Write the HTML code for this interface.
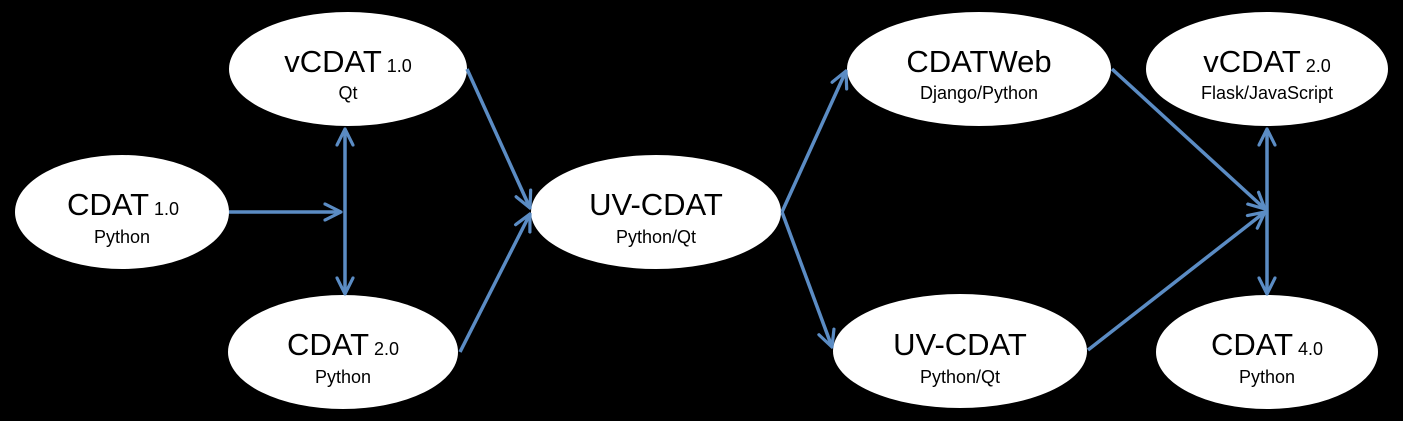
<!DOCTYPE html>
<html><head><meta charset="utf-8"><style>
html,body{margin:0;padding:0;background:#000;}
svg{display:block;}
text{font-family:"Liberation Sans",sans-serif;fill:#000;}
.t{font-size:31px;}
.s{font-size:18px;}
.v{font-size:18px;}
</style></head><body>
<svg width="1403" height="421" viewBox="0 0 1403 421" xmlns="http://www.w3.org/2000/svg">
<defs>
<marker id="a" viewBox="0 0 12 12" refX="11" refY="6" markerWidth="5.5" markerHeight="5.5" orient="auto-start-reverse" markerUnits="strokeWidth">
<path d="M1,1 L11,6 L1,11" fill="none" stroke="#5b8cc4" stroke-width="2" stroke-linecap="round"/>
</marker>
</defs>
<g fill="#fff">
<ellipse cx="122" cy="212" rx="107" ry="57"/>
<ellipse cx="348" cy="69" rx="119" ry="57"/>
<ellipse cx="343" cy="352" rx="115" ry="57"/>
<ellipse cx="656" cy="212" rx="125" ry="57"/>
<ellipse cx="979" cy="69" rx="132" ry="57"/>
<ellipse cx="1267" cy="69" rx="121" ry="57"/>
<ellipse cx="960" cy="351" rx="127" ry="57"/>
<ellipse cx="1267" cy="352" rx="111" ry="57"/>
</g>
<g stroke="#5b8cc4" stroke-width="3.5" fill="none">
<line x1="229" y1="212" x2="341" y2="212" marker-end="url(#a)"/>
<line x1="345" y1="129" x2="345" y2="294" marker-start="url(#a)" marker-end="url(#a)"/>
<line x1="467" y1="69" x2="530" y2="208" marker-end="url(#a)"/>
<line x1="460" y1="352" x2="530" y2="214" marker-end="url(#a)"/>
<line x1="782" y1="212" x2="846" y2="71" marker-end="url(#a)"/>
<line x1="782" y1="212" x2="832" y2="347" marker-end="url(#a)"/>
<line x1="1112" y1="69" x2="1265" y2="209" marker-end="url(#a)"/>
<line x1="1088" y1="350" x2="1265" y2="212" marker-end="url(#a)"/>
<line x1="1267" y1="129" x2="1267" y2="294" marker-start="url(#a)" marker-end="url(#a)"/>
</g>
<text x="123" y="215" text-anchor="middle"><tspan class="t">CDAT</tspan><tspan class="v"> 1.0</tspan></text>
<text x="122" y="243" text-anchor="middle" class="s">Python</text>
<text x="348" y="72" text-anchor="middle"><tspan class="t">vCDAT</tspan><tspan class="v"> 1.0</tspan></text>
<text x="348" y="99" text-anchor="middle" class="s">Qt</text>
<text x="343" y="355" text-anchor="middle"><tspan class="t">CDAT</tspan><tspan class="v"> 2.0</tspan></text>
<text x="343" y="383" text-anchor="middle" class="s">Python</text>
<text x="656" y="215" text-anchor="middle" class="t">UV-CDAT</text>
<text x="656" y="243" text-anchor="middle" class="s">Python/Qt</text>
<text x="979" y="72" text-anchor="middle" class="t">CDATWeb</text>
<text x="979" y="99" text-anchor="middle" class="s">Django/Python</text>
<text x="1267" y="72" text-anchor="middle"><tspan class="t">vCDAT</tspan><tspan class="v"> 2.0</tspan></text>
<text x="1267" y="99" text-anchor="middle" class="s">Flask/JavaScript</text>
<text x="960" y="355" text-anchor="middle" class="t">UV-CDAT</text>
<text x="960" y="383" text-anchor="middle" class="s">Python/Qt</text>
<text x="1267" y="355" text-anchor="middle"><tspan class="t">CDAT</tspan><tspan class="v"> 4.0</tspan></text>
<text x="1267" y="383" text-anchor="middle" class="s">Python</text>
</svg>
</body></html>
